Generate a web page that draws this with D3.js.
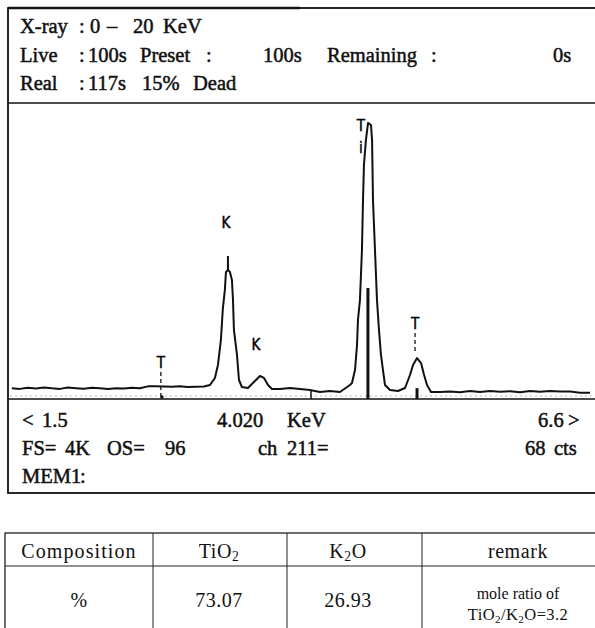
<!DOCTYPE html>
<html>
<head>
<meta charset="utf-8">
<script src="https://cdn.jsdelivr.net/npm/d3@7"></script>
<style>
  body { margin: 0; background: #fff; }
</style>
</head>
<body>
<div id="chart"></div>
<script>
// spectrum (keV, counts)
const energy = [1.473, 1.541, 1.609, 1.678, 1.746, 1.814, 1.882, 1.950, 2.018, 2.086, 2.155, 2.223, 2.291, 2.359,
  2.427, 2.495, 2.563, 2.632, 2.700, 2.768, 2.836, 2.904, 2.972, 3.040, 3.109, 3.160, 3.202, 3.228, 3.253, 3.270,
  3.287, 3.296, 3.313, 3.330, 3.347, 3.356, 3.364, 3.390, 3.407, 3.432, 3.483, 3.534, 3.586, 3.620, 3.654, 3.688,
  3.756, 3.841, 3.926, 4.011, 4.097, 4.182, 4.267, 4.352, 4.369, 4.395, 4.412, 4.420, 4.437, 4.454, 4.463, 4.471,
  4.488, 4.506, 4.531, 4.540, 4.548, 4.565, 4.582, 4.599, 4.616, 4.633, 4.650, 4.693, 4.761, 4.821, 4.863, 4.889,
  4.923, 4.957, 4.983, 5.008, 5.042, 5.119, 5.204, 5.289, 5.374, 5.460, 5.545, 5.630, 5.715, 5.800, 5.885, 5.971,
  6.056, 6.141, 6.226, 6.311, 6.396];
const counts = [150, 140, 155, 145, 160, 148, 140, 158, 150, 142, 155, 148, 138, 150,
  145, 155, 150, 175, 178, 172, 168, 175, 165, 170, 172, 194, 291, 471, 817, 1259,
  1509, 1758, 1785, 1758, 1647, 1370, 955, 609, 263, 166, 152, 235, 318, 291, 194, 138,
  138, 152, 138, 125, 97, 111, 97, 194, 221, 401, 747, 1093, 1370, 2062, 2754, 3239,
  3585, 3820, 3792, 3585, 2754, 2062, 1370, 955, 609, 401, 194, 125, 111, 152, 332, 471,
  567, 498, 332, 194, 97, 97, 105, 95, 110, 97, 111, 100, 108, 95, 110, 100,
  111, 103, 105, 88, 85];

const rangeKeV = [1.5, 6.6];
const fullScale = 4096;
const cursorKeV = 4.020;

// peak ID markers
const markerKeV = [2.759, 3.313, 3.569, 4.505, 4.923];
const markerLabel = ['T', 'K', 'K', 'Ti', 'T'];
const markerBar = [0, 1979, 0, 1536, 150];

const headerRows = [
  ['X-ray', ':', '0', '–', '20', 'KeV'],
  ['Live', ':', '100s', 'Preset', ':', '100s', 'Remaining', ':', '0s'],
  ['Real', ':', '117s', '15%', 'Dead'],
];
const footerRows = [
  ['<', '1.5', '4.020', 'KeV', '6.6', '>'],
  ['FS=', '4K', 'OS=', '96', 'ch', '211=', '68', 'cts'],
  ['MEM1', ':'],
];

const tableHead = [['Composition'], ['TiO', '2'], ['K', '2', 'O'], ['remark']];
const tableRow = ['%', '73.07', '26.93'];
const remarkLines = [['mole ratio of'], ['TiO', '2', '/K', '2', 'O=3.2']];

const W = 595, H = 628;
const serif = "'Liberation Serif', 'Times New Roman', serif";
const narrow = "'DejaVu Sans Condensed', 'Liberation Sans Narrow', sans-serif";

const svg = d3.select('#chart').append('svg').attr('width', W).attr('height', H);

// ---- screen frame
const box = { left: 8, top: 8, right: 605, split: 103, plotBottom: 399, bottom: 493 };
svg.append('rect')
  .attr('x', box.left).attr('y', box.top)
  .attr('width', box.right - box.left).attr('height', box.bottom - box.top)
  .attr('fill', 'none').attr('stroke', '#111').attr('stroke-width', 1.8);
svg.append('line').attr('x1', box.left).attr('x2', 300).attr('y1', box.top).attr('y2', box.top)
  .attr('stroke', '#111').attr('stroke-width', 2.6);
[box.split, box.plotBottom].forEach((y) => {
  svg.append('line').attr('x1', box.left).attr('x2', box.right).attr('y1', y).attr('y2', y)
    .attr('stroke', '#111').attr('stroke-width', 1.7);
});
svg.append('line').attr('x1', box.left + 2).attr('x2', box.right).attr('y1', box.plotBottom - 3).attr('y2', box.plotBottom - 3)
  .attr('stroke', '#aaa').attr('stroke-width', 0.8).attr('stroke-dasharray', '2 3');

function textRows(rows, xs, ys) {
  rows.forEach((row, i) => {
    svg.append('g').selectAll('text').data(row).enter().append('text')
      .attr('x', (d, j) => xs[i][j])
      .attr('y', ys[i])
      .text((d) => d)
      .style('font-family', serif)
      .style('font-size', '20.5px')
      .attr('fill', '#111')
      .attr('stroke', '#111')
      .attr('stroke-width', 0.5);
  });
}

textRows(headerRows, [
  [20, 79, 90, 107, 133, 163],
  [20, 79, 88, 140, 206, 263, 327, 431, 553],
  [20, 79, 88, 142, 193],
], [33, 62, 90]);

textRows(footerRows, [
  [22, 42, 217, 287, 538, 568],
  [22, 65, 107, 165, 258, 287, 525, 554],
  [22, 80],
], [427, 455, 483]);

// ---- spectrum
const x = d3.scaleLinear().domain(rangeKeV).range([15, 614]);
const y = d3.scaleLinear().domain([0, fullScale]).range([box.plotBottom, box.split]);

svg.append('clipPath').attr('id', 'plot-clip').append('rect')
  .attr('x', box.left + 1).attr('y', box.split + 1)
  .attr('width', W - box.left).attr('height', box.plotBottom - box.split - 1);

const plot = svg.append('g').attr('clip-path', 'url(#plot-clip)');
const points = energy.map((e, i) => [e, counts[i]]);

plot.append('path')
  .datum(points)
  .attr('fill', 'none')
  .attr('stroke', '#111')
  .attr('stroke-width', 2)
  .attr('stroke-linejoin', 'round')
  .attr('d', d3.line().x((d) => x(d[0])).y((d) => y(d[1])));

// cursor
plot.append('line')
  .attr('x1', x(cursorKeV)).attr('x2', x(cursorKeV))
  .attr('y1', y(0)).attr('y2', y(counts[49]))
  .attr('stroke', '#111').attr('stroke-width', 1.5);

// marker bars
markerKeV.forEach((e, i) => {
  if (!markerBar[i]) return;
  const top = y(markerBar[i]);
  const bottom = i === 1 ? y(counts[32]) : y(0);
  plot.append('line')
    .attr('x1', x(e)).attr('x2', x(e))
    .attr('y1', bottom).attr('y2', top)
    .attr('stroke', '#111').attr('stroke-width', i === 1 ? 2 : 3);
});

// marker labels
const labelY = [362, 222, 344, 125, 323];
markerKeV.forEach((e, i) => {
  const lx = x(e) + (i === 3 ? -7 : -2);
  const lbl = markerLabel[i];
  const g = svg.append('g').style('font-family', narrow).style('font-size', '15px')
    .attr('fill', '#000').attr('stroke', '#000').attr('stroke-width', 0.4);
  g.append('text').attr('x', lx).attr('y', labelY[i] + 6).attr('text-anchor', 'middle').text(lbl[0]);
  if (lbl.length > 1) {
    g.append('text').attr('x', lx).attr('y', labelY[i] + 28).attr('text-anchor', 'middle').text(lbl[1]);
  }
});
// dashed id lines under single-letter T markers
[0, 4].forEach((i) => {
  const lx = x(markerKeV[i]) - 2;
  const y0 = labelY[i] + 10;
  const y1 = i === 0 ? box.plotBottom - 3 : labelY[i] + 30;
  svg.append('line').attr('x1', lx).attr('x2', lx).attr('y1', y0).attr('y2', y1)
    .attr('stroke', '#111').attr('stroke-width', 1.3).attr('stroke-dasharray', '4 3');
});
svg.append('circle').attr('cx', x(markerKeV[0]) - 1).attr('cy', box.plotBottom - 2).attr('r', 1.8).attr('fill', '#111');

// ---- composition table
const tb = { top: 533, mid: 566, bottom: 640, cols: [5, 153, 287, 422, 610] };
const centers = [79, 219, 348, 518];
svg.append('rect')
  .attr('x', tb.cols[0]).attr('y', tb.top)
  .attr('width', tb.cols[4] - tb.cols[0]).attr('height', tb.bottom - tb.top)
  .attr('fill', 'none').attr('stroke', '#222').attr('stroke-width', 1.3);
svg.append('line').attr('x1', tb.cols[0]).attr('x2', tb.cols[4]).attr('y1', tb.mid).attr('y2', tb.mid)
  .attr('stroke', '#222').attr('stroke-width', 1.2);
tb.cols.slice(1, 4).forEach((c) => {
  svg.append('line').attr('x1', c).attr('x2', c).attr('y1', tb.top).attr('y2', tb.bottom)
    .attr('stroke', '#222').attr('stroke-width', 1);
});

const table = svg.append('g').style('font-family', serif).attr('fill', '#111');

// '2' parts become subscripts
function chem(sel, parts) {
  let low = false;
  parts.forEach((p) => {
    if (p === '2') {
      sel.append('tspan').attr('font-size', '0.68em').attr('dy', 3).text(p);
      low = true;
    } else {
      sel.append('tspan').attr('dy', low ? -3 : 0).text(p);
      low = false;
    }
  });
}

tableHead.forEach((parts, i) => {
  const t = table.append('text').attr('x', centers[i]).attr('y', 558).attr('text-anchor', 'middle')
    .style('font-size', '20px').style('letter-spacing', i === 0 ? '1.1px' : '0.6px');
  chem(t, parts);
});
tableRow.forEach((v, i) => {
  table.append('text').attr('x', centers[i]).attr('y', 607).attr('text-anchor', 'middle')
    .style('font-size', '20px').style('letter-spacing', '0.5px').text(v);
});
remarkLines.forEach((parts, i) => {
  const t = table.append('text').attr('x', centers[3]).attr('y', 599 + i * 21).attr('text-anchor', 'middle')
    .style('font-size', i === 0 ? '16px' : '16.5px').style('letter-spacing', i === 0 ? '0px' : '0.4px');
  chem(t, parts);
});
</script>
</body>
</html>
